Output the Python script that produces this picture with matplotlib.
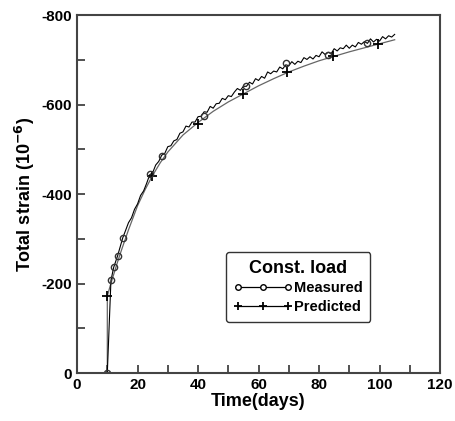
import numpy as np
import matplotlib.pyplot as plt
from matplotlib.lines import Line2D

plt.rcParams['font.family'] = ['Liberation Sans', 'DejaVu Sans']
plt.rcParams['font.weight'] = 'bold'
plt.rcParams['axes.unicode_minus'] = False

# measured trace (noisy), days / strain
meas_t = [10, 11.2, 12.1, 13.4, 15.1] + list(range(16, 106))
meas_v = [0, -207, -236, -262, -302,
          -318, -336, -347, -366, -378, -397, -407, -424, -443, -448,
          -465, -473, -487, -491, -506, -508, -519, -522, -536, -539,
          -552, -550, -561, -561, -573, -574, -584, -583, -596, -592,
          -602, -603, -614, -611, -620, -618, -628, -636, -632, -641,
          -641, -650, -646, -658, -654, -663, -659, -673, -669, -675,
          -673, -684, -680, -689, -687, -696, -690, -697, -694, -705,
          -701, -707, -702, -710, -707, -718, -712, -717, -714, -725,
          -720, -727, -725, -733, -726, -733, -729, -739, -735, -741,
          -737, -747, -740, -746, -742, -752, -747, -754, -751, -757]
# circle markers on the measured curve
meas_mk_t = [10, 11.2, 12.1, 13.4, 15.1, 24, 28.2, 42, 55.8, 69.1, 83, 95.8]
meas_mk_v = [0, -207, -236, -262, -302, -445, -486, -575, -642, -692, -710, -738]

# predicted curve
pred_t = [10, 10, 11, 12, 13, 14, 15, 17, 20, 22.5, 25, 27.5, 30, 35, 40, 45,
          50, 55, 60, 65, 70, 75, 80, 85, 90, 95, 100, 105]
pred_v = [0, -172, -196, -218, -240, -261, -281, -320, -374, -410, -442, -470,
          -494, -532, -560, -585, -606, -624, -642, -658, -673, -686, -698,
          -708, -718, -727, -736, -745]
pred_mk_t = [10, 24.7, 40.1, 55, 69.5, 84.6, 99.6]
pred_mk_v = [-172, -440, -556, -624, -672, -708, -736]

fig = plt.figure(figsize=(4.56, 4.21), dpi=100)
ax = fig.add_axes([0.169, 0.114, 0.796, 0.85])

ax.plot(pred_t, pred_v, color='#666666', lw=0.9)
ax.plot(pred_mk_t, pred_mk_v, ls='none', marker='+', color='k', ms=6.5, mew=1.3)
ax.plot(meas_t, meas_v, color='k', lw=0.8)
ax.plot(meas_mk_t, meas_mk_v, ls='none', marker='o', mfc='none', mec='#333333', ms=4.5, mew=1)

ax.set_xlim(0, 120)
ax.set_ylim(0, -800)
ax.set_xticks([0, 20, 40, 60, 80, 100, 120])
ax.set_xticks(np.arange(10, 120, 20), minor=True)
ax.set_yticks([0, -200, -400, -600, -800])
ax.set_yticks([-100, -300, -500, -700], minor=True)
ax.tick_params(which='both', direction='in', labelsize=11, width=1.2, colors='#333333',
               labelcolor='black', length=6)
for s in ax.spines.values():
    s.set_linewidth(1.5)
    s.set_color('#444444')

ax.set_xlabel('Time(days)', fontsize=13, fontweight='bold', labelpad=1)
ax.set_ylabel('Total strain (10$^{\\mathbf{-6}}$)', fontsize=13, fontweight='bold', labelpad=3)

h1 = Line2D([], [], color='k', lw=0.9, marker='o', mfc='white', ms=4)
h2 = Line2D([], [], color='k', lw=0.9, marker='+', ms=6, mew=1.3)
leg = ax.legend([h1, h2], ['Measured', 'Predicted'], title='Const. load',
                loc='upper left', bbox_to_anchor=(0.41, 0.338), numpoints=3,
                handlelength=4.0, handletextpad=0.1, fontsize=10.5,
                title_fontproperties={'weight': 'bold', 'size': 13},
                fancybox=True, edgecolor='#333333', framealpha=1,
                borderpad=0.55, labelspacing=0.3, borderaxespad=0)
leg.get_frame().set_linewidth(1.0)

fig.savefig('out.png', dpi=100)
